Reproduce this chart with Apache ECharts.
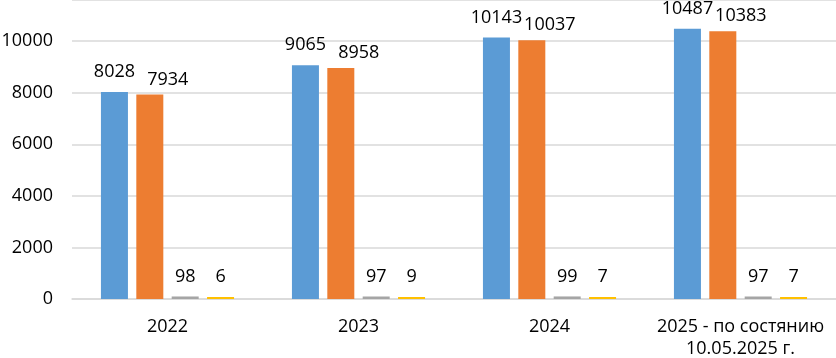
<!DOCTYPE html>
<html>
<head>
<meta charset="utf-8">
<script src="https://cdn.jsdelivr.net/npm/echarts@6/dist/echarts.min.js"></script>
<style>
  html, body { margin: 0; padding: 0; background: #fff; }
  #content { width: 836px; height: 358px; }
</style>
</head>
<body>
<div id="content"></div>
<script>
// categories and values
var categories = ['2022', '2023', '2024', '2025 - по состянию\n10.05.2025 г.'];
var seriesA = [8028, 9065, 10143, 10487];
var seriesB = [7934, 8958, 10037, 10383];
var seriesC = [98, 97, 99, 97];
var seriesD = [6, 9, 7, 7];
var colors = ['#5B9BD5', '#ED7D31', '#A5A5A5', '#FFC000'];

var chart = echarts.init(document.getElementById('content'));

// 标签字体
var font = 'Open Sans';

function makeSeries(data, color, labelOffset) {
    return {
        type: 'bar',
        data: data,
        barWidth: 27,
        barGap: '31%',
        barMinHeight: 2,
        itemStyle: { color: color },
        label: {
            show: true,
            position: 'top',
            distance: 11,
            offset: labelOffset || [0, 0],
            color: '#000',
            fontSize: 18,
            fontFamily: font
        }
    };
}

var option = {
    animation: false,
    grid: { left: 72, right: 0, top: 0, bottom: 59, outerBoundsMode: 'none', containLabel: false },
    xAxis: {
        type: 'category',
        data: categories,
        axisLine: { lineStyle: { color: '#D9D9D9', width: 1.5 } },
        axisTick: { show: false },
        axisLabel: {
            interval: 0,
            color: '#000',
            fontSize: 18,
            fontFamily: font,
            margin: 17,
            lineHeight: 22
        }
    },
    yAxis: {
        type: 'value',
        min: 0,
        max: 11600,
        interval: 2000,
        axisLine: { show: false },
        axisTick: { show: false },
        splitLine: { lineStyle: { color: '#D9D9D9', width: 1.5 } },
        axisLabel: {
            color: '#000',
            fontSize: 18,
            fontFamily: font,
            margin: 19,
            showMaxLabel: false,
            formatter: function (value) {
                return String(value);
            }
        }
    },
    series: [
        makeSeries(seriesA, colors[0]),
        makeSeries(seriesB, colors[1], [18, 5]),
        makeSeries(seriesC, colors[2]),
        makeSeries(seriesD, colors[3])
    ]
};

chart.setOption(option);
</script>
</body>
</html>
